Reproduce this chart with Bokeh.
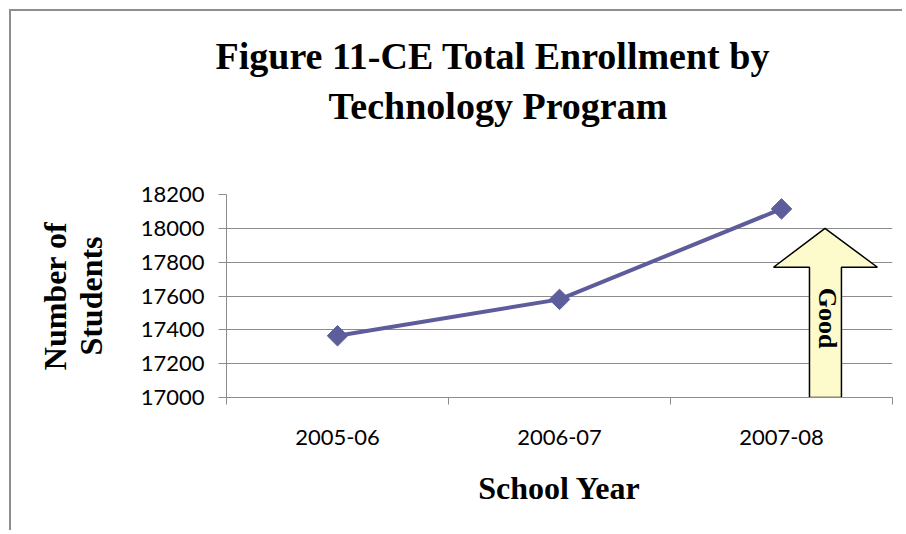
import math
from bokeh.plotting import figure
from bokeh.models import Range1d, FixedTicker, Label, Title
from bokeh.embed import file_html
from bokeh.resources import INLINE

# ---- data ----
school_years = ["2005-06", "2006-07", "2007-08"]
students = [17365, 17580, 18115]
y_ticks = [17000, 17200, 17400, 17600, 17800, 18000, 18200]
title_lines = ["Figure 11-CE Total Enrollment by", "Technology Program"]
x_title = "School Year"
y_title_lines = ["Number of", "Students"]
note_text = "Good"

LINE_COLOR = "#5d5d9b"
GRID = "#8c8c8c"
SERIF = "Liberation Serif"
SANS = "Lato"

n = len(school_years)
x_pos = [i + 0.5 for i in range(n)]

p = figure(width=893, height=521, output_backend="svg", toolbar_location=None,
           x_range=Range1d(0, n), y_range=Range1d(y_ticks[0], y_ticks[-1]),
           min_border_left=215, min_border_right=12,
           min_border_top=183, min_border_bottom=135)
p.styles = {"margin-left": "11px", "margin-top": "11px",
            "box-shadow": "-2px -2px 0px 0px #8e8e8e"}
p.outline_line_color = None
p.background_fill_color = "white"
p.border_fill_color = "white"

# x axis: labels at category centres, tick marks at boundaries
p.xaxis.ticker = FixedTicker(ticks=x_pos, minor_ticks=list(range(n + 1)))
p.xaxis.major_label_overrides = {xp: lab for xp, lab in zip(x_pos, school_years)}
p.xaxis.major_tick_line_color = None
p.xaxis.minor_tick_line_color = GRID
p.xaxis.minor_tick_in = 0
p.xaxis.minor_tick_out = 7
p.xaxis.axis_line_color = GRID
p.xaxis.major_label_text_font = SANS
p.xaxis.major_label_text_font_size = "22px"
p.xaxis.major_label_text_color = "black"
p.xaxis.major_label_standoff = 25
p.xaxis.axis_label = x_title
p.xaxis.axis_label_text_font = SERIF
p.xaxis.axis_label_text_font_style = "bold"
p.xaxis.axis_label_text_font_size = "32px"
p.xaxis.axis_label_text_color = "black"
p.xaxis.axis_label_standoff = 22
p.xgrid.grid_line_color = None

# y axis
p.yaxis.ticker = FixedTicker(ticks=y_ticks)
p.yaxis.minor_tick_line_color = None
p.yaxis.major_tick_line_color = GRID
p.yaxis.major_tick_in = 0
p.yaxis.major_tick_out = 8
p.yaxis.axis_line_color = GRID
p.yaxis.major_label_text_font = SANS
p.yaxis.major_label_text_font_size = "22px"
p.yaxis.major_label_text_color = "black"
p.yaxis.major_label_standoff = 14
p.ygrid.grid_line_color = GRID
p.ygrid.grid_line_width = 1

# series
p.line(x_pos, students, line_color=LINE_COLOR, line_width=4)
p.scatter(x_pos, students, marker="square", angle=math.pi / 4, size=14.5,
          fill_color=LINE_COLOR, line_color=LINE_COLOR)

# "Good" arrow annotation
ax = [2.696, 2.932, 2.770, 2.770, 2.626, 2.626, 2.464]
ay = [18000, 17770, 17770, 17000, 17000, 17770, 17770]
p.patch(ax, ay, fill_color="#fdfacb", line_color="black", line_width=1.5)
p.add_layout(Label(x=2.705, y=17469, text=note_text, angle=-math.pi / 2,
                   text_font=SERIF, text_font_style="bold", text_font_size="26px",
                   text_align="center", text_baseline="middle", text_color="black"))

# chart title (two lines)
p.title.text = title_lines[0]
p.title.align = "left"
p.title.offset = -11
p.title.standoff = -124
p.title.text_font = SERIF
p.title.text_font_style = "bold"
p.title.text_font_size = "38px"
p.title.text_color = "black"
p.add_layout(Title(text=title_lines[1], align="left", offset=102, standoff=136,
                   text_font=SERIF, text_font_style="bold", text_font_size="38px",
                   text_color="black"), "above")

# y-axis title (two lines)
p.add_layout(Title(text=y_title_lines[1], align="center", standoff=57,
                   text_font=SERIF, text_font_style="bold", text_font_size="32px",
                   text_color="black"), "left")
p.add_layout(Title(text=y_title_lines[0], align="center", standoff=-60,
                   text_font=SERIF, text_font_style="bold", text_font_size="32px",
                   text_color="black"), "left")

open("out.html", "w").write(file_html(p, INLINE))
